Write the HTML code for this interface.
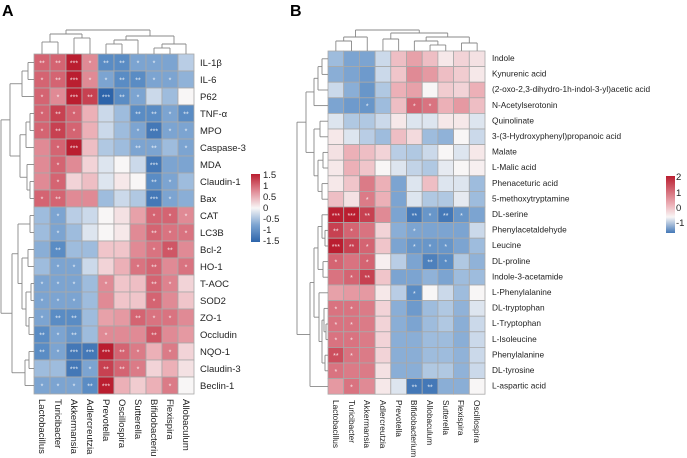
<!DOCTYPE html>
<html><head><meta charset="utf-8"><style>
html,body{margin:0;padding:0;background:#fff}
svg{display:block;font-family:"Liberation Sans",sans-serif}
</style></head><body>
<svg id="s" width="687" height="458" viewBox="0 0 687 458" xmlns="http://www.w3.org/2000/svg">
<text x="2" y="16" font-size="16" font-weight="bold">A</text>
<text x="290" y="16" font-size="16" font-weight="bold">B</text>
<g id="g"></g>
<g font-size="9.5" fill="#222">
<text x="200" y="66">IL-1β</text><text x="200" y="83">IL-6</text><text x="200" y="100">P62</text><text x="200" y="117">TNF-α</text><text x="200" y="134">MPO</text><text x="200" y="151">Caspase-3</text><text x="200" y="168">MDA</text><text x="200" y="185">Claudin-1</text><text x="200" y="202">Bax</text><text x="200" y="219">CAT</text><text x="200" y="236">LC3B</text><text x="200" y="253">Bcl-2</text><text x="200" y="270">HO-1</text><text x="200" y="287">T-AOC</text><text x="200" y="304">SOD2</text><text x="200" y="321">ZO-1</text><text x="200" y="338">Occludin</text><text x="200" y="355">NQO-1</text><text x="200" y="372">Claudin-3</text><text x="200" y="389">Beclin-1</text>
</g>
<g font-size="8.3" fill="#222">
<text x="492" y="61">Indole</text><text x="492" y="76.6">Kynurenic acid</text><text x="492" y="92.2">(2-oxo-2,3-dihydro-1h-indol-3-yl)acetic acid</text><text x="492" y="107.8">N-Acetylserotonin</text><text x="492" y="123.4">Quinolinate</text><text x="492" y="139">3-(3-Hydroxyphenyl)propanoic acid</text><text x="492" y="154.6">Malate</text><text x="492" y="170.2">L-Malic acid</text><text x="492" y="185.8">Phenaceturic acid</text><text x="492" y="201.4">5-methoxytryptamine</text><text x="492" y="217">DL-serine</text><text x="492" y="232.6">Phenylacetaldehyde</text><text x="492" y="248.2">Leucine</text><text x="492" y="263.8">DL-proline</text><text x="492" y="279.4">Indole-3-acetamide</text><text x="492" y="295">L-Phenylalanine</text><text x="492" y="310.6">DL-tryptophan</text><text x="492" y="326.2">L-Tryptophan</text><text x="492" y="341.8">L-Isoleucine</text><text x="492" y="357.4">Phenylalanine</text><text x="492" y="373">DL-tyrosine</text><text x="492" y="388.6">L-aspartic acid</text>
</g>
<g font-size="9.5" fill="#222">
<text transform="translate(39,399) rotate(90)">Lactobacillus</text><text transform="translate(55,399) rotate(90)">Turicibacter</text><text transform="translate(71,399) rotate(90)">Akkermansia</text><text transform="translate(87,399) rotate(90)">Adlercreutzia</text><text transform="translate(103,399) rotate(90)">Prevotella</text><text transform="translate(119,399) rotate(90)">Oscillospira</text><text transform="translate(135,399) rotate(90)">Sutterella</text><text transform="translate(151,399) rotate(90)">Bifidobacteriu</text><text transform="translate(167,399) rotate(90)">Flexispira</text><text transform="translate(183,399) rotate(90)">Allobaculum</text>
</g>
<g font-size="8.3" fill="#222">
<text transform="translate(333,400) rotate(90)">Lactobacillus</text><text transform="translate(349,400) rotate(90)">Turicibacter</text><text transform="translate(364,400) rotate(90)">Akkermansia</text><text transform="translate(380,400) rotate(90)">Adlercreutzia</text><text transform="translate(396,400) rotate(90)">Prevotella</text><text transform="translate(411,400) rotate(90)">Bifidobacterium</text><text transform="translate(427,400) rotate(90)">Allobaculum</text><text transform="translate(443,400) rotate(90)">Sutterella</text><text transform="translate(458,400) rotate(90)">Flexispira</text><text transform="translate(474,400) rotate(90)">Oscillospira</text>
</g>
<g font-size="9.5" fill="#222">
<text x="263" y="178">1.5</text><text x="263" y="189">1</text><text x="263" y="200">0.5</text><text x="263" y="211">0</text><text x="263" y="222">-0.5</text><text x="263" y="233">-1</text><text x="263" y="244">-1.5</text>
<text x="676" y="180">2</text><text x="676" y="196">1</text><text x="676" y="211">0</text><text x="676" y="226">-1</text>
</g>
</svg>
<script>
(function(){
var NS="http://www.w3.org/2000/svg",G=document.getElementById("g");
function el(t,a){var e=document.createElementNS(NS,t);for(var k in a)e.setAttribute(k,a[k]);G.appendChild(e);return e;}
var stops=[[-3,[45,100,170]],[-2,[90,140,196]],[-1,[158,188,221]],[0,[248,246,246]],[1,[236,176,183]],[2,[212,100,114]],[3,[186,30,48]]];
function col(v){v=Math.max(-3,Math.min(3,v));for(var i=0;i<stops.length-1;i++){var a=stops[i],b=stops[i+1];if(v<=b[0]){var t=(v-a[0])/(b[0]-a[0]);return "rgb("+a[1].map(function(c,j){return Math.round(c+(b[1][j]-c)*t)}).join(",")+")";}}}
var A=[[2,2,3,1.5,-2,-2,-1.5,-1.5,-1.5,-0.7],[2,2,3,1.5,-1.5,-2,-2,-1.5,-1.5,-1.2],[2,1.5,3,2.5,-3,-2,-1.5,-0.5,-1,0],[2,2.5,2,1,-0.5,-1,-2,-2,-1.5,-2],[2,2.5,2,1,-0.5,-1,-1.5,-2.5,-1.5,-1.5],[1.5,2,3,0.8,-0.8,-1,-1.5,-1.5,-1,-1.5],[1.5,2,1.5,0.5,-0.3,0,-0.5,-2.5,-1.5,-1.5],[1.5,2,0.5,0.8,-0.3,0.2,0,-2,-1.5,-1],[2,2,1.5,1.5,-1,-0.5,-0.8,-2.5,-1.5,-1.3],[-1,-1.5,-0.7,-0.5,0,0.3,1.2,2,2,1.5],[-1,-1.5,-1,-0.3,0,0.2,1.5,2,1.8,1.8],[-1.3,-2,-1,-1,0.7,0.7,1.5,1.8,2.2,1.5],[-1,-1.5,-1.5,-0.5,0.5,1,1.8,2,1.5,1.8],[-1.5,-1.5,-1.5,-1,1.5,0.7,0.8,2,1.6,0.5],[-1.5,-1.5,-1.5,-1,1.5,0.7,0.7,2,1.5,0.7],[-1.5,-2,-2,-1,1.2,1.3,2,1.8,1.8,1.5],[-2,-1.5,-1.8,-1,1.5,1.5,1.5,2.2,1.5,1.3],[-2,-1.5,-2.5,-2.5,3,2,1.7,1,1.7,0.5],[-1,-1,-2.5,-1.5,2.5,2,1.7,0.5,1,0.3],[-1.5,-1.5,-1.5,-2,3,1,0.6,1,1.7,0]];
var AS=["**,**,***,*,**,**,*,*,,","*,**,***,*,*,**,**,*,*,","*,*,***,**,***,**,*,,,","*,**,*,,,,**,**,*,**","*,**,*,,,,*,***,*,*",",*,***,,,,**,**,,*",",*,,,,,,***,,",",*,,,,,,**,*,","*,**,,,,,,***,*,",",*,,,,,,*,*,*",",*,,,,,,**,*,*",",**,,,,,,*,**,",",*,*,,,,*,**,,*","*,*,*,,*,,,**,*,","*,*,*,,,,,*,,","*,**,**,,,,**,*,*,","**,*,**,,*,,,**,,","**,*,***,***,***,**,*,,*,",",,***,*,**,**,*,,,","*,*,*,**,***,,,,*,"];
var B=[[-1,-1.5,-1.5,-0.5,0.8,1.2,0.8,0.2,0.5,0.3],[-1.3,-1.5,-1.7,-0.5,0.7,1.5,1.3,0.8,0.6,0.2],[-0.5,-1.3,-1.8,-0.8,1,1.2,0,0.6,0.5,1],[-1.5,-1.7,-1.8,-1,0.8,2,1.8,1,1.3,0.8],[-0.3,-0.8,-0.8,-0.5,0.2,-0.3,-0.3,0.2,0.2,-0.3],[0.2,-0.3,-0.7,-1,0.8,0.4,-1,-1.2,0,-0.5],[0.3,1,0.8,0.5,-0.7,-0.8,-0.5,0,-0.3,0.2],[0.2,1,0.7,0,-0.3,-0.6,-0.8,-0.2,0,0.1],[0.2,0.7,1.7,1,-1.5,-0.3,0.8,-0.3,-0.3,-1],[0.8,0.3,1.7,1,-1.5,-0.3,-0.8,-0.8,-0.2,-1],[3,3,2.5,1.5,-1.5,-2.5,-1.8,-2.5,-1.8,-1.5],[2.5,2,1.8,0.5,-1.3,-1.5,-1.5,-1.5,-1.5,-0.5],[3,2.5,2,0.7,-1.5,-1.8,-1.8,-1.8,-1.5,-1],[2,1.8,2,0.1,-0.7,-1.5,-2.3,-2,-0.8,-1.2],[1.8,2,2.5,0.7,-1.5,-1.5,-1.2,-1.5,-1,-1],[1.2,1.3,1.3,0.2,-0.7,-2,0,-0.5,-1,0],[1.8,1.8,1.7,0.5,-1.3,-1.7,-1,-0.8,-1.2,-0.3],[1.8,1.8,1.7,0.5,-1.3,-1.5,-1,-0.8,-1.3,-0.5],[1.8,1.8,1.7,0.5,-1.3,-1.3,-1,-1,-1.3,-0.5],[2.3,1.8,1.7,0.5,-1.3,-1.3,-1,-1,-1.2,-0.5],[1.8,1.7,1.7,0.3,-1.3,-1.3,-0.8,-0.8,-1.2,-0.5],[1.3,1.8,1.5,0.2,-0.3,-2.5,-2.5,-1.3,-1.3,0]];
var BS=[",,,,,,,,,",",,,,,,,,,",",,,,,,,,,",",,*,,,*,*,,,",",,,,,,,,,",",,,,,,,,,",",,,,,,,,,",",,,,,,,,,",",,,,,,,,,",",,*,,,,,,,","***,***,**,,,**,*,**,*,","**,*,,,,*,,,,","***,**,*,,,*,*,*,,","*,,*,,,,**,*,,",",*,**,,,,,,,",",,,,,*,,,,","*,*,,,,,,,,","*,*,,,,,,,,","*,*,,,,,,,,","**,*,,,,,,,,","*,,,,,,,,,",",*,,,,**,**,,,"];
function heat(M,S,x0,y0,cw,rh){for(var r=0;r<M.length;r++){var st=S[r].split(",");for(var c=0;c<10;c++){el("rect",{x:x0+c*cw,y:y0+r*rh,width:cw,height:rh,fill:col(M[r][c]),stroke:"#a8a8a8","stroke-width":0.8});if(st[c]){var t=el("text",{x:x0+c*cw+cw/2,y:y0+r*rh+rh/2+3,"text-anchor":"middle","font-size":7,fill:"#fff","fill-opacity":0.85});t.textContent=st[c];}}}}
heat(A,AS,34,54,16,17);
heat(B,BS,328,51,15.7,15.6);
function line(x1,y1,x2,y2){el("line",{x1:x1,y1:y1,x2:x2,y2:y2,stroke:"#888","stroke-width":0.9});}
function dend(n,base,off,step,vert){if(typeof n==="number")return {p:off+(n+0.5)*step,h:0};var a=dend(n[0],base,off,step,vert),b=dend(n[1],base,off,step,vert),h=n[2];
if(vert){line(a.p,base-a.h,a.p,base-h);line(b.p,base-b.h,b.p,base-h);line(a.p,base-h,b.p,base-h);}
else{line(base-a.h,a.p,base-h,a.p);line(base-b.h,b.p,base-h,b.p);line(base-h,a.p,base-h,b.p);}
return {p:(a.p+b.p)/2,h:h};}
var rA=[[[[0,1,6],2,12],[[[3,4,4],5,8],[6,[7,8,4],7],14],24],[[[9,10,4],[[11,12,6],[[13,14,3],[15,16,5],8],12],16],[[17,18,5],19,9],22],33];
dend(rA,34,54,17,false);
var cA=[[[0,1,12],[2,3,16],20],[[[4,5,10],6,14],[[7,8,6],9,10],18],24];
dend(cA,54,34,16,true);
var tp=[[[[0,1,6],2,10],3,14],[[4,5,8],[[6,7,5],[8,9,6],10],14],22];
var bt=[[[10,[11,12,3],6],[13,14,5],10],[15,[[16,[17,18,2],4],[19,20,3],6],9],14];
bt=[bt,21,18];
dend([tp,bt,31],328,51,15.6,false);
var cB=[[[0,1,10],2,14],[[3,4,12],[[5,[6,7,6],10],[8,9,8],14],18],21];
dend(cB,51,328,15.7,true);
var defs=document.createElementNS(NS,"defs");document.getElementById("s").appendChild(defs);
defs.innerHTML='<linearGradient id="lg" x1="0" y1="0" x2="0" y2="1"><stop offset="0" stop-color="'+col(3)+'"/><stop offset="0.25" stop-color="'+col(1.5)+'"/><stop offset="0.5" stop-color="'+col(0)+'"/><stop offset="0.75" stop-color="'+col(-1.5)+'"/><stop offset="1" stop-color="'+col(-3)+'"/></linearGradient><linearGradient id="lg2" x1="0" y1="0" x2="0" y2="1"><stop offset="0" stop-color="'+col(3)+'"/><stop offset="0.5" stop-color="'+col(1)+'"/><stop offset="0.72" stop-color="'+col(0)+'"/><stop offset="1" stop-color="'+col(-2.5)+'"/></linearGradient>';
el("rect",{x:251,y:174,width:9,height:68,fill:"url(#lg)"});
el("rect",{x:666,y:176,width:9,height:57,fill:"url(#lg2)"});
})();
</script>
</body></html>
